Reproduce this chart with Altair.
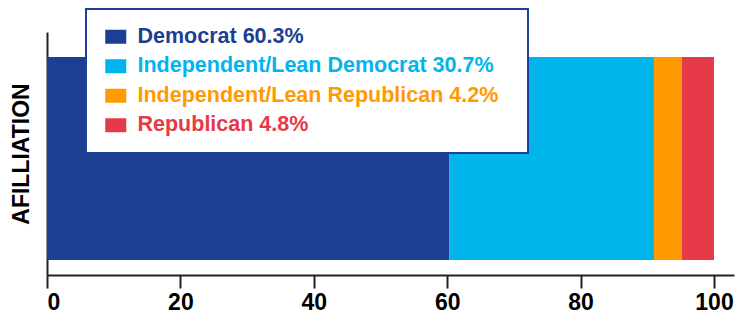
import altair as alt
import pandas as pd

categories = ["Democrat", "Independent/Lean Democrat", "Independent/Lean Republican", "Republican"]
values = [60.3, 30.7, 4.2, 4.8]
colors = ["#1c3f93", "#00b4ec", "#ff9a00", "#e63a48"]
row_label = "AFILLIATION"
ticks = [0, 20, 40, 60, 80, 100]

labels = [f"{c} {v}%" for c, v in zip(categories, values)]
df = pd.DataFrame({
    "group": [row_label] * len(categories),
    "party": labels,
    "value": values,
    "order": list(range(len(categories))),
})

FONT = "Liberation Sans"

chart = alt.Chart(df).mark_bar().encode(
    x=alt.X("value:Q", stack="zero",
            scale=alt.Scale(domain=[0, 103], nice=False),
            axis=alt.Axis(values=ticks, title=None, grid=False, tickSize=13, tickWidth=2,
                          tickColor="#222222", domainColor="#222222", domainWidth=2,
                          labelFontSize=23, labelFontWeight="bold", labelColor="#000000",
                          labelFont=FONT, labelPadding=3)),
    y=alt.Y("group:N",
            scale=alt.Scale(paddingInner=0, paddingOuter=0.0985, align=0.625),
            axis=alt.Axis(labels=False, ticks=False, title=row_label, titleFontSize=23,
                          titleFont=FONT, titleFontWeight="bold", titleColor="#000000",
                          titlePadding=14, domainColor="#222222", domainWidth=2)),
    color=alt.Color("party:N",
                    scale=alt.Scale(domain=labels, range=colors),
                    legend=alt.Legend(title="\u00a0", titleOrient="right", titlePadding=13,
                                      titleFontSize=11,
                                      orient="none", legendX=39, legendY=-23,
                                      symbolType="M-1,-0.667H1V0.667H-1Z", symbolSize=441,
                                      symbolStrokeWidth=0, symbolOpacity=1, symbolOffset=2,
                                      labelFontSize=21.5, labelFontWeight="bold", labelFont=FONT,
                                      labelColor=alt.ExprRef("scale('color', datum.value)"),
                                      labelOffset=11, rowPadding=6.5, padding=17,
                                      strokeColor="#1f3f99", fillColor="#ffffff",
                                      labelLimit=600)),
    order=alt.Order("order:Q"),
).properties(
    width=687, height=243,
    padding={"left": 2, "top": 0, "right": 5, "bottom": 0},
).configure_view(stroke=None).configure_legend(strokeWidth=2)

chart.save("out.html", embed_options={"renderer": "svg", "actions": False})
